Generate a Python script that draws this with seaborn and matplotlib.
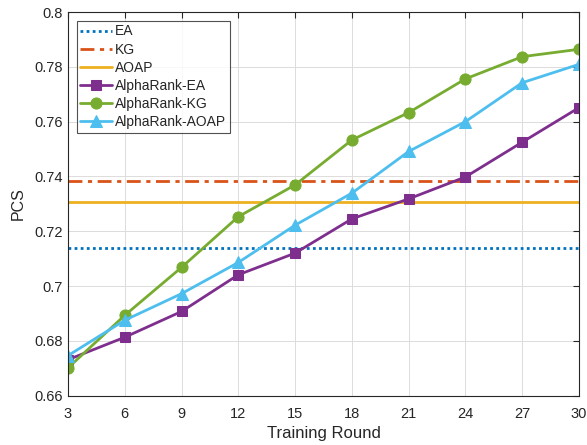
import matplotlib
matplotlib.use("Agg")
import matplotlib.pyplot as plt
import seaborn as sns
import pandas as pd

rounds = [3, 6, 9, 12, 15, 18, 21, 24, 27, 30]
ea_const = 0.7139
kg_const = 0.7384
aoap_const = 0.7306
ar_ea = [0.6731, 0.6813, 0.6907, 0.7041, 0.7120, 0.7245, 0.7318, 0.7398, 0.7525, 0.7651]
ar_kg = [0.6701, 0.6893, 0.7068, 0.7253, 0.7369, 0.7533, 0.7633, 0.7756, 0.7837, 0.7864]
ar_aoap = [0.6746, 0.6875, 0.6972, 0.7086, 0.7222, 0.7339, 0.7491, 0.7600, 0.7742, 0.7809]

sns.set_theme(style="whitegrid")
plt.rcParams['font.family'] = ['Liberation Sans', 'DejaVu Sans']

fig = plt.figure(figsize=(5.87, 4.45), dpi=100)
ax = fig.add_axes([0.1158, 0.111, 0.8706, 0.862])

ax.axhline(ea_const, color='#0072BD', lw=2, ls=(0, (1, 1.2)), label='EA')
ax.axhline(kg_const, color='#D95319', lw=2, ls=(0, (5, 2, 1.5, 2)), label='KG')
ax.axhline(aoap_const, color='#EDB120', lw=2, ls='-', label='AOAP')

series = [("AlphaRank-EA", ar_ea, '#7E2F8E', 's', 7),
          ("AlphaRank-KG", ar_kg, '#77AC30', 'o', 8),
          ("AlphaRank-AOAP", ar_aoap, '#4DBEEE', '^', 9)]
for name, vals, col, mk, ms in series:
    df = pd.DataFrame({"round": rounds, "pcs": vals})
    sns.lineplot(data=df, x="round", y="pcs", ax=ax, color=col, lw=2,
                 marker=mk, markersize=ms, markeredgecolor=col, label=name)

ax.set_xlim(3, 30)
ax.set_ylim(0.66, 0.8)
ax.set_xticks(rounds)
ax.set_xticklabels([str(r) for r in rounds])
yt = [0.66, 0.68, 0.70, 0.72, 0.74, 0.76, 0.78, 0.80]
ax.set_yticks(yt)
ax.set_yticklabels(['0.66', '0.68', '0.7', '0.72', '0.74', '0.76', '0.78', '0.8'])
ax.set_xlabel("Training Round", fontsize=12, color='#262626', labelpad=3)
ax.set_ylabel("PCS", fontsize=11.5, color='#262626', labelpad=6)
ax.tick_params(direction='in', top=True, right=True, length=4, width=0.8,
               labelsize=10.5, colors='#262626')
ax.tick_params(axis='x', pad=8.5)
ax.tick_params(axis='y', pad=4)
ax.grid(True, color='#dcdcdc', lw=0.7)
ax.set_facecolor('white')
for s in ax.spines.values():
    s.set_visible(True)
    s.set_color('#262626')
    s.set_linewidth(0.8)

leg = ax.legend(loc='upper left', bbox_to_anchor=(0.0176, 0.9766), fontsize=10,
                frameon=True, fancybox=False, edgecolor='#262626',
                handlelength=2.3, handletextpad=0.2, borderpad=0.25,
                labelspacing=0.3, borderaxespad=0)
leg.get_frame().set_linewidth(0.8)

fig.savefig("out.png", dpi=100)
